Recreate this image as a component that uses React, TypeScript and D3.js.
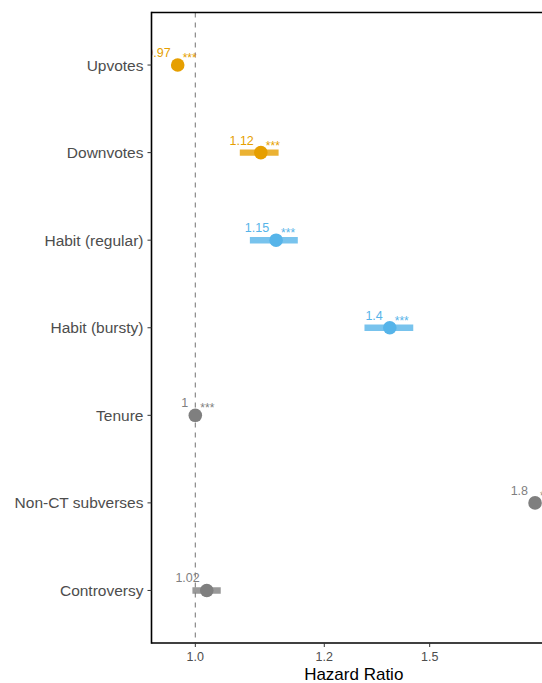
import React from "react";
import * as d3 from "d3";

// Hazard ratio estimates per predictor
const predictors = ["Upvotes", "Downvotes", "Habit (regular)", "Habit (bursty)", "Tenure", "Non-CT subverses", "Controversy"];
const estimates = [0.97, 1.12, 1.15, 1.4, 1.0, 1.8, 1.02];
const ciLower = [0.962, 1.08, 1.099, 1.34, 0.997, 1.79, 0.995];
const ciUpper = [0.978, 1.155, 1.194, 1.458, 1.003, 1.81, 1.045];
const valueLabels = ["0.97", "1.12", "1.15", "1.4", "1", "1.8", "1.02"];
const stars = ["***", "***", "***", "***", "***", "***", ""];
const groups = ["vote", "vote", "habit", "habit", "control", "control", "control"];

const tickValues = [1, 1.25, 1.5];
const tickLabels = ["1.0", "1.2", "1.5"];

const groupColor: Record<string, string> = {
  vote: "#E69F00",
  habit: "#56B4E9",
  control: "#7F7F7F",
};

const W = 542;
const H = 683;
const left = 151.5;
const right = 556;
const top = 12.5;
const bottom = 643;

export default function App() {
  const x = d3.scaleLog().domain([0.927, 1.97]).range([left, left + (Math.log(1.97) - Math.log(0.927)) * 578]);
  const y = d3.scalePoint<string>().domain(predictors).range([top, bottom]).padding(0.6);

  const font = "Liberation Sans, Arial, sans-serif";

  return (
    <svg width={W} height={H} style={{ position: "absolute", left: 0, top: 0, display: "block" }} fontFamily={font}>
      <defs>
        <clipPath id="panel">
          <rect x={left} y={top} width={right - left} height={bottom - top} />
        </clipPath>
      </defs>
      <rect width={W} height={H} fill="#fff" />
      <line x1={x(1)} x2={x(1)} y1={top} y2={bottom} stroke="#7f7f7f" strokeWidth={1.1} strokeDasharray="5,5" />
      <g clipPath="url(#panel)">
        {predictors.map((p, i) => {
          const c = groupColor[groups[i]];
          const cy = y(p)!;
          const cx = x(estimates[i]);
          return (
            <g key={p}>
              <line x1={x(ciLower[i])} x2={x(ciUpper[i])} y1={cy} y2={cy} stroke={c} strokeOpacity={0.8} strokeWidth={6.4} />
              <circle cx={cx} cy={cy} r={6.8} fill={c} />
              <text x={cx - 7} y={cy - 8} textAnchor="end" fontSize={12.5} fill={c}>
                {valueLabels[i]}
              </text>
              {stars[i] && (
                <text x={cx + 5} y={cy - 3} fontSize={12} fill={c}>
                  {stars[i]}
                </text>
              )}
            </g>
          );
        })}
      </g>
      {/* axes */}
      <line x1={left} x2={left} y1={top - 0.75} y2={bottom + 0.75} stroke="#000" strokeWidth={1.6} />
      <line x1={left} x2={W} y1={bottom} y2={bottom} stroke="#000" strokeWidth={1.6} />
      <line x1={left} x2={W} y1={top} y2={top} stroke="#000" strokeWidth={1.6} />
      {predictors.map((p) => (
        <g key={p}>
          <line x1={left - 4} x2={left} y1={y(p)!} y2={y(p)!} stroke="#333" strokeWidth={1} />
          <text x={left - 8} y={y(p)!} dy="0.36em" textAnchor="end" fontSize={15.5} fill="#4d4d4d">
            {p}
          </text>
        </g>
      ))}
      {tickValues.map((t, i) => (
        <g key={t}>
          <line x1={x(t)} x2={x(t)} y1={bottom} y2={bottom + 4} stroke="#333" strokeWidth={1} />
          <text x={x(t)} y={bottom + 18} textAnchor="middle" fontSize={12.5} fill="#4d4d4d">
            {tickLabels[i]}
          </text>
        </g>
      ))}
      <text x={(left + right) / 2} y={680} textAnchor="middle" fontSize={17} fill="#000">
        Hazard Ratio
      </text>
    </svg>
  );
}
